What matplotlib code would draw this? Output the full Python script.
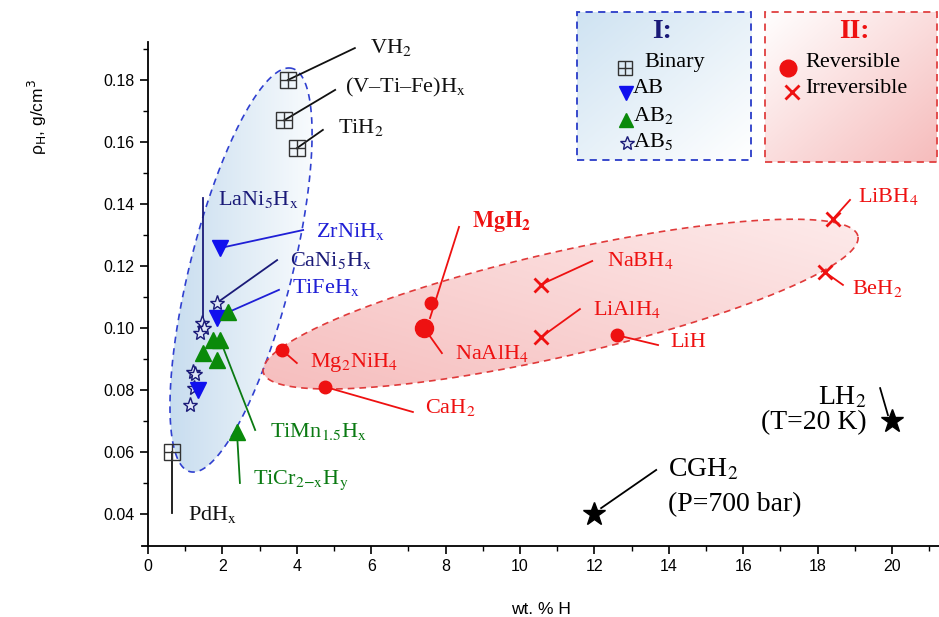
import numpy as np
import matplotlib
matplotlib.use("Agg")
import matplotlib.pyplot as plt
from matplotlib.colors import LinearSegmentedColormap
from matplotlib.patches import Polygon, Rectangle
from matplotlib.ticker import FixedLocator

plt.rcParams['font.family'] = ['Liberation Serif', 'DejaVu Serif']
plt.rcParams['mathtext.fontset'] = 'stix'

#-------------------------- data (wt.% H, rho_H g/cm3) --------------------------
# group I
binary_names = ['VH$_{\\rm 2}$', '(V\u2013Ti\u2013Fe)H$_{\\rm x}$', 'TiH$_{\\rm 2}$', 'PdH$_{\\rm x}$']
binary_x = [3.76, 3.66, 4.00, 0.65]
binary_y = [0.180, 0.167, 0.158, 0.060]

ab_x = [1.94, 1.85, 1.34]
ab_y = [0.1258, 0.1032, 0.0800]

ab2_x = [2.15, 1.75, 1.94, 1.48, 1.85, 2.39]
ab2_y = [0.1052, 0.0961, 0.0961, 0.0919, 0.0897, 0.0665]

ab5_x = [1.85, 1.45, 1.50, 1.40, 1.21, 1.25, 1.24, 1.13]
ab5_y = [0.1081, 0.1016, 0.1000, 0.0984, 0.0858, 0.0850, 0.0806, 0.0752]

# group II
rev_names = ['MgH$_{\\rm 2}$', 'NaAlH$_{\\rm 4}$', 'Mg$_{\\rm 2}$NiH$_{\\rm 4}$', 'CaH$_{\\rm 2}$', 'LiH']
rev_x = [7.60, 7.42, 3.60, 4.76, 12.60]
rev_y = [0.108, 0.100, 0.0929, 0.081, 0.0977]

irr_names = ['LiBH$_{\\rm 4}$', 'BeH$_{\\rm 2}$', 'NaBH$_{\\rm 4}$', 'LiAlH$_{\\rm 4}$']
irr_x = [18.40, 18.20, 10.56, 10.56]
irr_y = [0.135, 0.118, 0.114, 0.097]

# liquid / compressed H2
lh2 = (20.0, 0.070)
cgh2 = (12.0, 0.040)

blue = '#1f1fd6'
navy = '#1a1a78'
green = '#0a7a12'
red = '#ee1111'

fig = plt.figure(figsize=(9.39, 6.17), dpi=100)
ax = fig.add_axes([0.1517, 0.1152, 0.8478, 0.8682])

SX = 37.2     # px per wt.%
SY = 3100.0   # px per g/cm3


def ellipse_xy(cx, cy, a, b, ang, n=300):
    t = np.linspace(0, 2*np.pi, n)
    u = a*np.cos(t)
    v = b*np.sin(t)
    th = np.radians(ang)
    dx = u*np.cos(th) - v*np.sin(th)
    dy = u*np.sin(th) + v*np.cos(th)
    return np.column_stack([cx + dx/SX, cy + dy/SY])


def grad_fill(patch, c0, c1, mode):
    ax.add_patch(patch)
    if isinstance(patch, Rectangle):
        x0, y0 = patch.get_xy()
        ext = [x0, x0 + patch.get_width(), y0, y0 + patch.get_height()]
    else:
        xy = patch.get_xy()
        ext = [xy[:, 0].min(), xy[:, 0].max(), xy[:, 1].min(), xy[:, 1].max()]
    X, Y = np.meshgrid(np.linspace(0, 1, 200), np.linspace(0, 1, 200))
    if mode == 'h':
        g = X
    elif mode == 'v':
        g = Y
    elif mode == 'd':     # bottom-left -> top-right
        g = (X + Y) / 2
    else:                 # top-left -> bottom-right
        g = (X + 1 - Y) / 2
    cm = LinearSegmentedColormap.from_list('g', [c0, c1])
    im = ax.imshow(g, cmap=cm, extent=ext, origin='lower', aspect='auto',
                   zorder=0, interpolation='bicubic')
    im.set_clip_path(patch)


#------------------------------ shaded groups ------------------------------
pts = ellipse_xy(2.50, 0.1187, 208, 51, 75.8)
grad_fill(Polygon(pts, closed=True, facecolor='none', edgecolor='none'), '#c8ddef', '#f8fbfd', 'h')
ax.add_patch(Polygon(pts, closed=True, facecolor='none', edgecolor='#3040d0', lw=1.2,
                     linestyle=(0, (4, 3)), zorder=1))

pts = ellipse_xy(11.09, 0.1077, 305, 52, 12.9)
grad_fill(Polygon(pts, closed=True, facecolor='none', edgecolor='none'), '#f6bebe', '#fdeaea', 'd')
ax.add_patch(Polygon(pts, closed=True, facecolor='none', edgecolor='#e03a3a', lw=1.2,
                     linestyle=(0, (4, 3)), zorder=1))

#------------------------------ legend boxes ------------------------------
box1 = Rectangle((11.53, 0.1542), 16.21 - 11.53, 0.2019 - 0.1542, facecolor='none', edgecolor='none')
grad_fill(box1, '#cfe3f2', '#ffffff', 'r')
ax.add_patch(Rectangle((11.53, 0.1542), 16.21 - 11.53, 0.2019 - 0.1542, facecolor='none',
                       edgecolor='#2a3cc8', lw=1.3, linestyle=(0, (4, 3)), zorder=1))
box2 = Rectangle((16.59, 0.1535), 21.21 - 16.59, 0.2019 - 0.1535, facecolor='none', edgecolor='none')
grad_fill(box2, '#ffffff', '#f6bcbc', 'r')
ax.add_patch(Rectangle((16.59, 0.1535), 21.21 - 16.59, 0.2019 - 0.1535, facecolor='none',
                       edgecolor='#e04040', lw=1.3, linestyle=(0, (4, 3)), zorder=1))

#------------------------------ leader lines + labels ------------------------------
lab_fs = 16

# binary
bin_txt = [(5.97, 0.1906), (5.30, 0.1777), (5.11, 0.1648), (1.08, 0.0397)]
bin_end = [(5.56, 0.1903), (5.03, 0.1768), (4.70, 0.1639), (0.65, 0.0403)]
for i in range(4):
    ax.plot([binary_x[i], bin_end[i][0]], [binary_y[i], bin_end[i][1]], color='#111111', lw=1.3, zorder=2)
    ax.text(bin_txt[i][0], bin_txt[i][1], binary_names[i], fontsize=lab_fs, color='#111111',
            ha='left', va='center', zorder=4)

# intermetallics
ax.plot([1.48, 1.48], [0.1420, 0.1003], color=navy, lw=1.3, zorder=2)
ax.text(1.88, 0.1413, 'LaNi$_{\\rm 5}$H$_{\\rm x}$', fontsize=lab_fs, color=navy, va='center', zorder=4)
ax.plot([ab_x[0], 4.17], [ab_y[0], 0.1316], color=blue, lw=1.3, zorder=2)
ax.text(4.52, 0.1310, 'ZrNiH$_{\\rm x}$', fontsize=lab_fs, color=blue, va='center', zorder=4)
ax.plot([ab5_x[0], 3.47], [ab5_y[0], 0.1219], color=navy, lw=1.3, zorder=2)
ax.text(3.82, 0.1219, 'CaNi$_{\\rm 5}$H$_{\\rm x}$', fontsize=lab_fs, color=navy, va='center', zorder=4)
ax.plot([1.95, 3.52], [0.1040, 0.1123], color=blue, lw=1.3, zorder=2)
ax.text(3.87, 0.1132, 'TiFeH$_{\\rm x}$', fontsize=lab_fs, color=blue, va='center', zorder=4)
ax.plot([ab2_x[2], 2.88], [ab2_y[2], 0.0671], color=green, lw=1.3, zorder=2)
ax.text(3.28, 0.0665, 'TiMn$_{\\rm 1.5}$H$_{\\rm x}$', fontsize=lab_fs, color=green, va='center', zorder=4)
ax.plot([ab2_x[5], 2.47], [ab2_y[5], 0.0500], color=green, lw=1.3, zorder=2)
ax.text(2.82, 0.0510, 'TiCr$_{\\rm 2{-}x}$H$_{\\rm y}$', fontsize=lab_fs, color=green, va='center', zorder=4)

# reversible
ax.plot([8.36, 7.58], [0.1326, 0.1032], color=red, lw=1.3, zorder=2)
ax.text(8.71, 0.1342, r'$\mathbf{MgH_2}$', fontsize=lab_fs, color=red, va='center', zorder=4)
rev_txt = [None, (8.25, 0.0919), (4.35, 0.0890), (7.45, 0.0742), (14.03, 0.0952)]
rev_end = [None, (7.90, 0.0919), (4.00, 0.0887), (7.12, 0.0729), (13.71, 0.0945)]
for i in range(1, 5):
    ax.plot([rev_x[i], rev_end[i][0]], [rev_y[i], rev_end[i][1]], color=red, lw=1.3, zorder=2)
    ax.text(rev_txt[i][0], rev_txt[i][1], rev_names[i], fontsize=lab_fs, color=red, va='center', zorder=4)

# irreversible
irr_txt = [(19.09, 0.1423), (18.92, 0.1129), (12.34, 0.1219), (11.96, 0.1061)]
irr_end = [(18.87, 0.1413), (18.68, 0.1139), (11.94, 0.1216), (11.61, 0.1061)]
for i in range(4):
    ax.plot([irr_x[i], irr_end[i][0]], [irr_y[i], irr_end[i][1]], color=red, lw=1.3, zorder=2)
    ax.text(irr_txt[i][0], irr_txt[i][1], irr_names[i], fontsize=lab_fs, color=red, va='center', zorder=4)

# LH2 / CGH2
ax.plot([19.68, 19.89], [0.0806, 0.0719], color='k', lw=1.3, zorder=2)
ax.text(19.33, 0.0777, 'LH$_{\\rm 2}$', fontsize=20, ha='right', va='center', zorder=4)
ax.text(19.33, 0.0694, '(T=20 K)', fontsize=20, ha='right', va='center', zorder=4)
ax.plot([12.18, 13.66], [0.0419, 0.0542], color='k', lw=1.3, zorder=2)
ax.text(13.98, 0.0542, 'CGH$_{\\rm 2}$', fontsize=20, ha='left', va='center', zorder=4)
ax.text(13.98, 0.0429, '(P=700 bar)', fontsize=20, ha='left', va='center', zorder=4)

#------------------------------ markers ------------------------------
ax.plot(binary_x, binary_y, 's', ms=11, mfc='none', mec='#333333', mew=1.0, zorder=3)
ax.plot(binary_x, binary_y, '+', ms=11, color='#333333', mew=1.0, zorder=3)
ax.plot(ab5_x, ab5_y, '*', ms=11, mfc='#dfe6f5', mec=navy, mew=1.0, zorder=3)
ax.plot(ab_x, ab_y, 'v', ms=11, color='#1010ee', zorder=3)
ax.plot(ab2_x, ab2_y, '^', ms=11, color='#0a8a0a', zorder=3)
ax.plot([x for i, x in enumerate(rev_x) if i != 1], [y for i, y in enumerate(rev_y) if i != 1],
        'o', ms=9, color=red, zorder=3)
ax.plot([rev_x[1]], [rev_y[1]], 'o', ms=13, color=red, zorder=3)
ax.plot(irr_x, irr_y, 'x', ms=10, mew=2.0, color=red, zorder=3)
ax.plot([lh2[0], cgh2[0]], [lh2[1], cgh2[1]], '*', ms=17, color='k', zorder=3)

#------------------------------ legend contents ------------------------------
ax.text(13.82, 0.1958, 'I:', fontsize=20, fontweight='bold', color=navy, ha='center', va='center')
ax.plot([12.82], [0.1839], 's', ms=10, mfc='none', mec='#333333', mew=1.0, clip_on=False)
ax.plot([12.82], [0.1839], '+', ms=10, color='#333333', mew=1.0, clip_on=False)
ax.text(13.33, 0.1858, 'Binary', fontsize=lab_fs, va='center')
ax.plot([12.85], [0.1758], 'v', ms=10, color='#1010ee', clip_on=False)
ax.text(13.04, 0.1774, 'AB', fontsize=lab_fs, va='center')
ax.plot([12.85], [0.1671], '^', ms=10, color='#0a8a0a', clip_on=False)
ax.text(13.04, 0.1684, 'AB$_{\\rm 2}$', fontsize=lab_fs, va='center')
ax.plot([12.88], [0.1597], '*', ms=10, mfc='#dfe6f5', mec=navy, mew=1.0, clip_on=False)
ax.text(13.04, 0.1600, 'AB$_{\\rm 5}$', fontsize=lab_fs, va='center')

ax.text(18.98, 0.1955, 'II:', fontsize=20, fontweight='bold', color=red, ha='center', va='center')
ax.plot([17.20], [0.1839], 'o', ms=12, color=red, clip_on=False)
ax.text(17.66, 0.1858, 'Reversible', fontsize=lab_fs, va='center')
ax.plot([17.31], [0.1761], 'x', ms=10, mew=2.0, color=red, clip_on=False)
ax.text(17.66, 0.1774, 'Irreversible', fontsize=lab_fs, va='center')

#------------------------------ axes ------------------------------
ax.set_xlim(-0.15, 21.25)
ax.set_ylim(0.0297, 0.2025)
ax.set_autoscale_on(False)
ax.spines['top'].set_visible(False)
ax.spines['right'].set_visible(False)
ax.spines['left'].set_position(('data', 0))
ax.spines['left'].set_bounds(0.0297, 0.1923)
for s in ['left', 'bottom']:
    ax.spines[s].set_linewidth(1.3)
ax.set_xticks(np.arange(0, 21, 2))
ax.set_yticks(np.arange(0.04, 0.181, 0.02))
ax.xaxis.set_minor_locator(FixedLocator(np.arange(1, 22, 2)))
ax.yaxis.set_minor_locator(FixedLocator(np.arange(0.05, 0.1901, 0.02)))
ax.tick_params(which='major', direction='out', length=6, width=1.2, labelsize=11.5)
ax.tick_params(which='minor', direction='out', length=3.5, width=1.0)
ax.set_xticklabels([str(v) for v in range(0, 21, 2)], family='Liberation Sans')
ax.set_yticklabels(['%.2f' % v for v in np.arange(0.04, 0.181, 0.02)], family='Liberation Sans')
ax.set_xlabel('wt. % H', family='Liberation Sans', fontsize=12.5, labelpad=20)
fig.text(37/939, 1 - 117/617, '\u03c1$_{\\rm H}$, g/cm$^3$', family='Liberation Sans', fontsize=12.5,
         rotation=90, ha='center', va='center', math_fontfamily='dejavusans')

plt.savefig('out.png', dpi=100)
